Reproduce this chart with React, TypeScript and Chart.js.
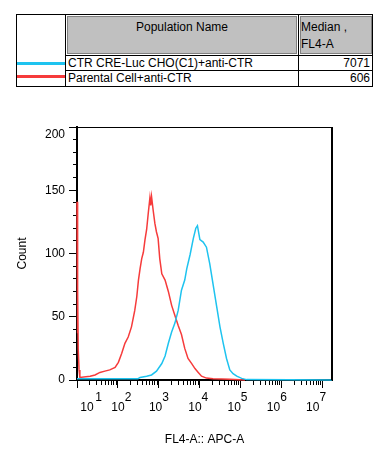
import { useEffect, useRef } from 'react';
import { Chart, registerables } from 'chart.js';

Chart.register(...registerables);

// ---- data ----
const populations = ['CTR CRE-Luc CHO(C1)+anti-CTR', 'Parental Cell+anti-CTR'];
const medians = ['7071', '606'];
const headerName = 'Population Name';
const headerStat = ['Median ,', 'FL4-A'];
const seriesColors = ['#1ec3ef', '#f63b3b'];

// Parental Cell+anti-CTR (red) : log10(FL4-A) and count
const redLog = [1.0, 1.01, 1.02, 1.03, 1.05, 1.07, 1.32, 1.44, 1.56, 1.68, 1.8, 1.93, 2.01, 2.09, 2.17, 2.25, 2.33, 2.41, 2.46, 2.5, 2.54, 2.58, 2.62, 2.66, 2.7, 2.74, 2.78, 2.8, 2.82, 2.86, 2.9, 2.94, 2.98, 3.02, 3.07, 3.15, 3.23, 3.31, 3.39, 3.47, 3.55, 3.63, 3.71, 3.8, 3.88, 3.96, 4.04, 4.16, 4.32, 4.73, 5.1];
const redCount = [141, 37, 71, 24, 8, 2, 3, 4, 6, 7, 8, 10, 14, 21, 29, 34, 42, 55, 66, 79, 88, 96, 101, 111, 119, 132, 144, 138, 145, 134, 124, 117, 112, 96, 84, 79, 70, 59, 51, 43, 36, 25, 17, 13, 9, 6, 3, 1.5, 1, 0.5, 0];

// CTR CRE-Luc CHO(C1)+anti-CTR (blue)
const blueLog = [1.0, 2.49, 2.54, 2.7, 2.82, 2.94, 3.07, 3.15, 3.23, 3.31, 3.39, 3.47, 3.55, 3.63, 3.68, 3.76, 3.84, 3.9, 3.94, 4.0, 4.08, 4.16, 4.24, 4.32, 4.41, 4.49, 4.57, 4.65, 4.73, 4.81, 4.9, 5.02, 5.14, 7.22];
const blueCount = [1, 1, 2, 3, 4, 7, 13, 19, 29, 38, 45, 55, 71, 79, 88, 99, 112, 120, 122, 111, 109, 105, 92, 76, 58, 42, 29, 17, 8, 5, 3, 1.3, 0.3, 0];

// axes
const xMin = 10;
const xMax = 16777215;
const xDecades = [1, 2, 3, 4, 5, 6, 7];
const tickMultipliers = [1, 2, 3, 4, 5, 6, 7, 8, 9];
const yMin = 0;
const yMax = 200;
const yMinorStep = 10;
const yLabelStep = 50;
const xTitle = 'FL4-A:: APC-A';
const yTitle = 'Count';

const FONT = '"Liberation Sans", Arial, sans-serif';

function toPoints(logs: number[], counts: number[]) {
  return logs.map((l, i) => ({ x: Math.pow(10, l), y: counts[i] }));
}

// "10" with the exponent raised to its upper right (two text lines)
function decadeLabel(e: number): string[] {
  if (e === 1) return [' '.repeat(13) + e, ' '.repeat(6) + '10'];
  const shift = Math.min(e - 2 + (e > 2 ? 1 : 0), 6); // trailing spaces on "10"
  const lead = Math.max(6 - shift, 0);
  return [' '.repeat(lead) + e, '10' + ' '.repeat(shift)];
}

const framePlugin = {
  id: 'frame',
  afterDatasetsDraw(chart: any) {
    const { ctx, chartArea } = chart;
    const { left, right, top, bottom } = chartArea;
    ctx.save();
    ctx.strokeStyle = '#000';
    ctx.lineWidth = 1;
    ctx.beginPath();
    ctx.moveTo(left, Math.round(top) + 0.5);
    ctx.lineTo(right, Math.round(top) + 0.5);
    ctx.stroke();
    ctx.lineWidth = 2;
    ctx.beginPath();
    ctx.moveTo(Math.round(right), top);
    ctx.lineTo(Math.round(right), bottom);
    ctx.stroke();
    ctx.restore();
  },
};

function Table() {
  const abs = (l: number, t: number, w: number, h: number, extra: any = {}) => ({
    position: 'absolute' as const,
    left: l,
    top: t,
    width: w,
    height: h,
    boxSizing: 'border-box' as const,
    ...extra,
  });
  const rowText = [63, 78];
  const rowLine = [63.5, 76.5];
  return (
    <div style={{ position: 'absolute', left: 0, top: 0, width: 384, height: 100, font: `12px ${FONT}`, color: '#000' }}>
      <div style={abs(16, 14, 357, 73, { border: '1px solid #000' })} />
      <div style={abs(65, 14, 1, 73, { background: '#000' })} />
      <div style={abs(298, 14, 1, 73, { background: '#000' })} />
      <div style={abs(65, 55, 308, 1, { background: '#000' })} />
      <div style={abs(65, 70, 308, 1, { background: '#000' })} />
      <div style={abs(67, 16, 230, 38, { background: '#c0c0c0', border: '1px solid #808080' })} />
      <div style={abs(300, 16, 72, 38, { background: '#c0c0c0', border: '1px solid #808080' })} />
      <div style={abs(67, 20, 230, 14, { textAlign: 'center', lineHeight: '14px' })}>{headerName}</div>
      <div style={abs(301, 20, 70, 14, { lineHeight: '14px', whiteSpace: 'nowrap' })}>{headerStat[0]}</div>
      <div style={abs(301, 37, 70, 14, { lineHeight: '14px', whiteSpace: 'nowrap' })}>{headerStat[1]}</div>
      {populations.map((p, i) => (
        <div key={p}>
          <div style={abs(17, rowLine[i] - 1.5, 48, 3, { background: seriesColors[i] })} />
          <div style={abs(68, rowText[i] - 7, 228, 14, { lineHeight: '14px', whiteSpace: 'nowrap' })}>{p}</div>
          <div style={abs(300, rowText[i] - 7, 70, 14, { lineHeight: '14px', textAlign: 'right' })}>{medians[i]}</div>
        </div>
      ))}
    </div>
  );
}

export default function App() {
  const ref = useRef<HTMLCanvasElement>(null);

  useEffect(() => {
    if (!ref.current) return;
    Chart.defaults.font.family = FONT;
    Chart.defaults.font.size = 12;
    Chart.defaults.color = '#000';
    const chart = new Chart(ref.current, {
      type: 'scatter',
      data: {
        datasets: [
          {
            label: populations[0],
            data: toPoints(blueLog, blueCount),
            showLine: true,
            borderColor: seriesColors[0],
            backgroundColor: seriesColors[0],
            borderWidth: 1.5,
            pointRadius: 0,
            tension: 0,
            clip: 2,
          },
          {
            label: populations[1],
            data: toPoints(redLog, redCount),
            showLine: true,
            borderColor: seriesColors[1],
            backgroundColor: seriesColors[1],
            borderWidth: 1.5,
            pointRadius: 0,
            tension: 0,
            clip: 2,
          },
        ],
      },
      options: {
        animation: false,
        responsive: false,
        events: [],
        layout: { padding: { left: 0, right: 52, top: 27, bottom: 0 } },
        plugins: { legend: { display: false }, tooltip: { enabled: false } },
        scales: {
          x: {
            type: 'logarithmic',
            min: xMin,
            max: xMax,
            afterFit: (s: any) => {
              s.height = 76;
            },
            afterBuildTicks: (s: any) => {
              const ticks: any[] = [];
              for (const d of xDecades) {
                for (const m of tickMultipliers) {
                  const v = m * Math.pow(10, d);
                  if (v <= s.max) ticks.push({ value: v, major: m === 1 });
                }
              }
              s.ticks = ticks;
            },
            ticks: {
              autoSkip: false,
              maxRotation: 0,
              minRotation: 0,
              padding: 5,
              color: '#000',
              font: { size: 12, lineHeight: 0.8 },
              callback: (value: any, index: number, ticks: any[]) => {
                const t = ticks[index];
                if (!t || !t.major) return '';
                return decadeLabel(Math.round(Math.log10(Number(value))));
              },
            },
            grid: {
              display: true,
              drawOnChartArea: false,
              drawTicks: true,
              tickLength: 8,
              tickColor: '#000',
              tickWidth: 1,
              tickBorderDash: (ctx: any) => (ctx.tick && ctx.tick.major ? [] : [4, 100]),
            } as any,
            border: { display: true, color: '#000', width: 2 },
            title: {
              display: true,
              text: xTitle,
              color: '#000',
              font: { size: 12 },
              padding: { top: 0, bottom: 9 },
            },
          },
          y: {
            type: 'linear',
            min: yMin,
            max: yMax,
            afterFit: (s: any) => {
              s.width = 77;
            },
            ticks: {
              stepSize: yMinorStep,
              autoSkip: false,
              padding: 4,
              color: '#000',
              font: { size: 12 },
              callback: (v: any) => {
                const n = Number(v);
                if (n % yLabelStep !== 0) return '';
                return n === yMax ? ['', String(n)] : String(n);
              },
            },
            grid: {
              display: true,
              drawOnChartArea: false,
              drawTicks: true,
              tickLength: 8,
              tickColor: '#000',
              tickWidth: 1,
              tickBorderDash: (ctx: any) =>
                ctx.tick && Number(ctx.tick.value) % yLabelStep === 0 ? [] : [0, 4, 3, 100],
            } as any,
            border: { display: true, color: '#000', width: 2 },
            title: {
              display: true,
              text: yTitle,
              color: '#000',
              font: { size: 12 },
              padding: { top: 15, bottom: 0 },
            },
          },
        },
      },
      plugins: [framePlugin],
    } as any);
    return () => chart.destroy();
  }, []);

  return (
    <div style={{ position: 'absolute', left: 0, top: 0, width: 384, height: 456, background: '#fff' }}>
      <Table />
      <canvas
        ref={ref}
        width={384}
        height={356}
        style={{ position: 'absolute', left: 0, top: 100, width: 384, height: 356 }}
      />
    </div>
  );
}
